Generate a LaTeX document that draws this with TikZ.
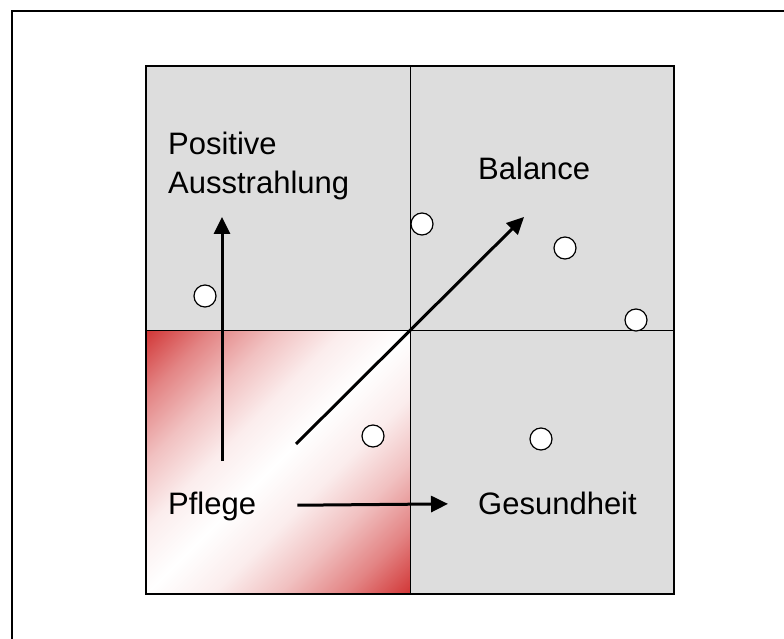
\documentclass[tikz,border=0pt]{standalone}
\usepackage{fontspec}
\setmainfont{Liberation Sans}
\usepackage{tikz}
\usetikzlibrary{arrows.meta,calc,positioning}
\definecolor{field}{HTML}{DDDDDD}
\definecolor{care}{HTML}{D13535}
\pgfdeclarehorizontalshading{carefade}{100bp}{color(0bp)=(care);color(25bp)=(care);color(31.25bp)=(care!61!white);color(37.5bp)=(care!31!white);color(43.75bp)=(care!9!white);color(50bp)=(white);color(56.25bp)=(care!9!white);color(62.5bp)=(care!31!white);color(68.75bp)=(care!61!white);color(75bp)=(care);color(100bp)=(care)}
\tikzset{arr/.style={-{Triangle[length=17pt,width=16pt]},line width=3pt},dot/.style={circle,draw,fill=white,line width=1.2pt,minimum size=22pt,inner sep=0pt},lab/.style={anchor=base west,inner sep=0pt,font=\fontsize{31}{39}\selectfont,align=left}}

\begin{document}
\begin{tikzpicture}[x=1pt,y=1pt]
\useasboundingbox (0,0) rectangle (784,638);\clip (0,0) rectangle (784,638);
\draw[line width=2pt] (11.5,-50) rectangle (850,627);
\coordinate (c) at (410,308);\coordinate (q) at ($(c)+(-132,-132)$);
\fill[field] ($(c)+(-264,-264)$) rectangle ($(c)+(264,264)$);
\begin{scope}
\clip ($(c)+(-264,-264)$) rectangle (c);
\shade[transform canvas={rotate around={-45:(q)}},shading=carefade] ($(q)+(-187,-187)$) rectangle ($(q)+(187,187)$);
\end{scope}
\draw[line width=1pt] ($(c)+(0,-264)$) -- ($(c)+(0,264)$) ($(c)+(-264,0)$) -- ($(c)+(264,0)$);
\draw[line width=2pt] ($(c)+(-264,-264)$) rectangle ($(c)+(264,264)$);
\node[lab] (pflege) at (168,124) {Pflege};\node[lab] (gesund) at (478,124) {Gesundheit};
\node[lab] (balance) at (478,458) {Balance};\node[lab] (ausstr) at (168,444) {Positive\\Ausstrahlung};
\coordinate (v0) at (222,177);\coordinate (v1) at (222,421);\coordinate (d0) at ($(c)+(-114,-114)$);\coordinate (d1) at ($(c)+(114,113)$);
\draw[arr,shorten <=41pt,shorten >=30pt] (pflege) -- (gesund);\draw[arr] (v0) -- (v1);\draw[arr] (d0) -- (d1);
\foreach \p [count=\i] in {(422,414),(565,390),(636,318),(205,342),(373,202),(541,199)}{\node[dot] (o\i) at \p {};}
\end{tikzpicture}
\end{document}
